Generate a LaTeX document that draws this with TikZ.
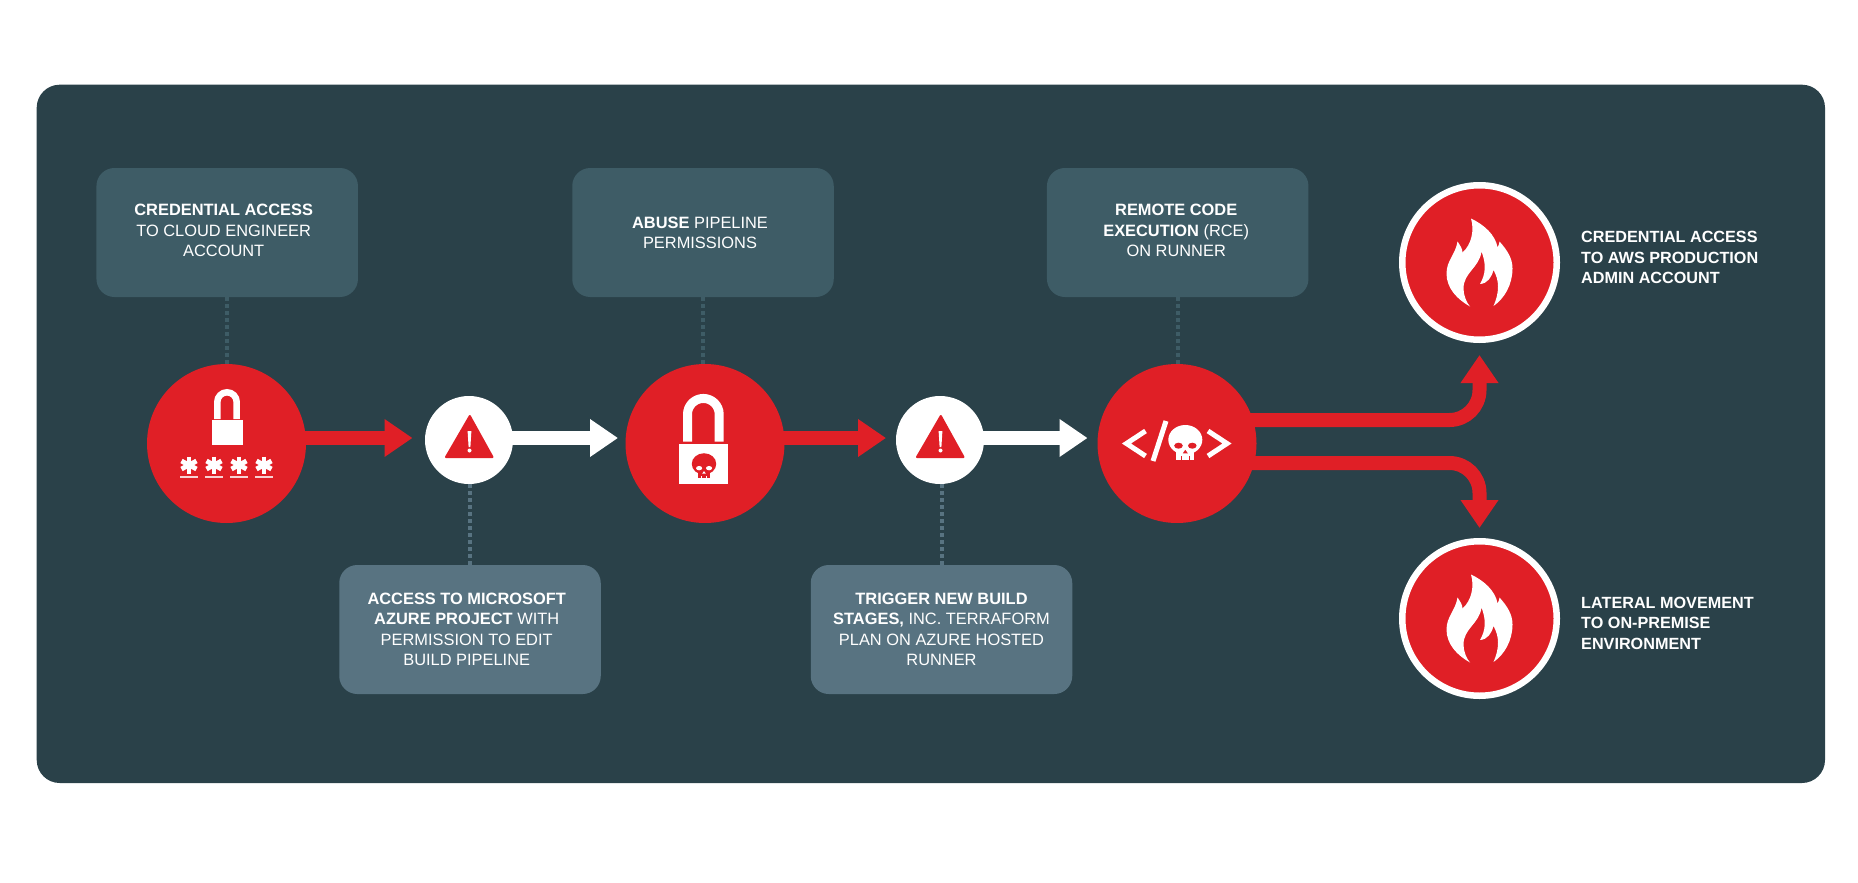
\documentclass[tikz,border=0pt]{standalone}
\usepackage{fontspec}
\setmainfont{Liberation Sans}
\usetikzlibrary{arrows.meta}
\definecolor{panel}{RGB}{42,65,73}
\definecolor{boxup}{RGB}{62,92,102}
\definecolor{boxdown}{RGB}{88,115,129}
\definecolor{alert}{RGB}{224,31,38}

% flame, centred on a node
\newcommand{\flameicon}[1]{
\fill[white,shift={(#1)}] (-9.5,44) .. controls (-22,37) and (-33,26) .. (-33,11)
 .. controls (-33,-2) and (-24,-8) .. (-22,-21)
 .. controls (-20,-18) and (-17,-14) .. (-17,-10)
 .. controls (-8,-18) and (-5,-32) .. (-8.5,-44)
 .. controls (4,-38) and (16,-28) .. (18,-15)
 .. controls (19,-17) and (20,-19) .. (20,-21)
 .. controls (28,-12) and (33,-4) .. (33,6)
 .. controls (33,22) and (25,36) .. (14,43.5)
 .. controls (20,30) and (20,18) .. (14,7.5)
 .. controls (12,15) and (8,21) .. (0.5,21.5)
 .. controls (6,12) and (7,2) .. (2,-11)
 .. controls (0,5) and (-16,10) .. (-16,26)
 .. controls (-16,33) and (-13,40) .. (-9.5,44) -- cycle;
}
% warning sign, centred on a node
\newcommand{\warnicon}[1]{
\begin{scope}[shift={(#1)}]
\draw[alert,fill=alert,line width=2pt,line join=round] (0.8,-24) -- (23.5,17) -- (-23,17) -- cycle;
\fill[white] (-1.4,-9) -- (2.4,-9) -- (1.4,7) -- (-0.4,7) -- cycle;
\fill[white] (0.5,10.5) circle (2);
\end{scope}
}
% skull: centre, scale, colour, colour of the holes
\newcommand{\skullicon}[4]{
\begin{scope}[shift={(#1)},scale=#2]
\fill[#3] (0,-2.5) ellipse (17 and 14.8);
\fill[#3] (-9,5) rectangle (9,17.5);
\fill[#4] (-6.8,3.4) ellipse (4.3 and 3);
\fill[#4] (7,3.4) ellipse (4.3 and 3);
\fill[#4] (0,7.5) -- (2.5,11) -- (-2.5,11) -- cycle;
\fill[#4] (-3.9,14) rectangle (-3.2,17.5);
\fill[#4] (3.2,14) rectangle (3.9,17.5);
\end{scope}
}

\begin{document}
\begin{tikzpicture}[x=1pt, y=-1pt, >={Triangle[length=28pt,width=36pt]},
textbox/.style={rectangle,rounded corners=18pt,minimum width=261.5pt,minimum height=129pt,inner sep=0pt},
boxtext/.style={text=white,align=center,inner sep=0pt,font=\fontsize{16.4}{20.5}\selectfont},
sidetext/.style={text=white,align=left,anchor=west,inner sep=0pt,font=\fontsize{16.2}{20.5}\selectfont\bfseries},
bigdot/.style={circle,fill=alert,minimum size=159pt,inner sep=0pt},
warndot/.style={circle,fill=white,minimum size=88pt,inner sep=0pt},
firedot/.style={circle,fill=alert,draw=white,line width=6.5pt,minimum size=154.5pt,inner sep=0pt},
linkup/.style={boxup,line width=4pt,dash pattern=on 4pt off 3pt},
linkdown/.style={boxdown,line width=4pt,dash pattern=on 4pt off 3pt},
redarrow/.style={alert,line width=14pt,->},
whitearrow/.style={white,line width=14pt,->}]
\useasboundingbox (0,0) rectangle (1858,883);

% panel
\fill[panel,rounded corners=23pt] (36.7,84.7) rectangle (1825,783);

% boxes
\node [textbox,fill=boxup,label={[boxtext,xshift=-3.5pt,yshift=2pt]center:{\textbf{CREDENTIAL ACCESS}\\TO CLOUD ENGINEER\\ACCOUNT}}] (credbox) at (227.2,232.5) {};
\node [textbox,fill=boxup,label={[boxtext,xshift=-3pt,yshift=-0.5pt]center:{\textbf{ABUSE} PIPELINE\\PERMISSIONS}}] (abusebox) at (703,232.5) {};
\node [textbox,fill=boxup,label={[boxtext,xshift=-1.5pt,yshift=2pt]center:{\textbf{REMOTE CODE}\\\textbf{EXECUTION} (RCE)\\ON RUNNER}}] (rcebox) at (1177.7,232.5) {};
\node [textbox,fill=boxdown,label={[boxtext,xshift=-3.3pt]center:{\textbf{ACCESS TO MICROSOFT}\\\textbf{AZURE PROJECT} WITH\\PERMISSION TO EDIT\\BUILD PIPELINE}}] (azurebox) at (470,629.5) {};
\node [textbox,fill=boxdown,label={[boxtext]center:{\textbf{TRIGGER NEW BUILD}\\\textbf{STAGES,} INC. TERRAFORM\\PLAN ON AZURE HOSTED\\RUNNER}}] (buildbox) at (941.5,629.5) {};

% circles
\node [bigdot] (passdot) at (226.5,443.5) {};
\node [warndot] (warnone) at (469,440) {};
\node [bigdot] (lockdot) at (705,443.5) {};
\node [warndot] (warntwo) at (940,440) {};
\node [bigdot] (codedot) at (1177,443.5) {};
\node [firedot] (fireup) at (1479.5,262.5) {};
\node [firedot] (firedown) at (1479.5,618.5) {};

% side texts
\node [sidetext] (awstext) at (1581,257.5) {CREDENTIAL ACCESS\\TO AWS PRODUCTION\\ADMIN ACCOUNT};
\node [sidetext] (lateraltext) at (1581,623) {LATERAL MOVEMENT\\TO ON-PREMISE\\ENVIRONMENT};

% dotted links
\draw [linkup] (credbox.south) -- (credbox.south |- passdot.north);
\draw [linkup] (abusebox.south) -- (abusebox.south |- lockdot.north);
\draw [linkup] (rcebox.south) -- (rcebox.south |- codedot.north);
\draw [linkdown] (azurebox.north |- warnone.south) -- (azurebox.north);
\draw [linkdown] (buildbox.north |- warntwo.south) -- (buildbox.north);

% arrow tips
\coordinate (tipa) at (412.5,438);
\coordinate (tipb) at (618,438);
\coordinate (tipc) at (886,438);
\coordinate (tipd) at (1087.5,438);
\coordinate (tipup) at (1479.5,355);
\coordinate (tipdown) at (1479.5,528);
\coordinate (outup) at (1177,420);
\coordinate (outdown) at (1177,463);

\draw [redarrow] (passdot.center |- tipa) -- (tipa);
\draw [whitearrow] (warnone.center |- tipb) -- (tipb);
\draw [redarrow] (lockdot.center |- tipc) -- (tipc);
\draw [whitearrow] (warntwo.center |- tipd) -- (tipd);
\draw [redarrow,rounded corners=30pt] (outup) -| (tipup);
\draw [redarrow,rounded corners=30pt] (outdown) -| (tipdown);

% padlock with stars
\draw [white,line width=6.5pt] (217.3,419) -- (217.3,402) arc (180:360:9.7) -- (236.7,419);
\fill [white] (212,420) rectangle (242.5,445);
\foreach \starx in {189,214,239,264} {
\draw [white,line width=4.8pt] (\starx,456.5) -- (\starx,473.5);
\draw [white,line width=4.8pt] (\starx-7.5,461) -- (\starx+7.5,469);
\draw [white,line width=4.8pt] (\starx-7.5,469) -- (\starx+7.5,461);
\draw [white,opacity=0.8,line width=1.4pt] (\starx-9,477) -- (\starx+9,477);
}

% padlock with skull
\draw [white,line width=9pt] (687.5,441.7) -- (687.5,414.3) arc (180:360:15.85) -- (719.2,441.7);
\fill [white] (679,444) rectangle (728,484);
\skullicon{704,465.7}{0.72}{alert}{white}

% code brackets with skull
\draw [white,line width=5pt,miter limit=10] (1145.5,431) -- (1126.5,443.5) -- (1145.5,456);
\draw [white,line width=5pt] (1166,421) -- (1153,461);
\skullicon{1185.3,442.3}{1}{white}{alert}
\draw [white,line width=5pt,miter limit=10] (1208,431) -- (1227,443.5) -- (1208,456);

% warning signs
\warnicon{warnone}
\warnicon{warntwo}

% flames
\flameicon{fireup}
\flameicon{firedown}
\end{tikzpicture}
\end{document}
